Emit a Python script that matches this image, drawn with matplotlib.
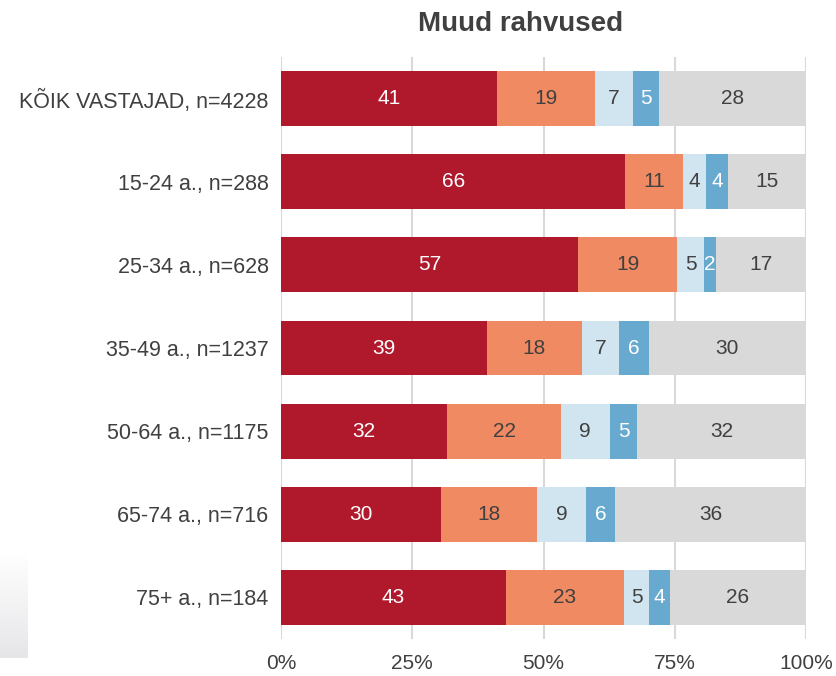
import matplotlib
matplotlib.use("Agg")
import matplotlib.pyplot as plt
import numpy as np

plt.rcParams['font.family'] = ['Liberation Sans', 'DejaVu Sans']

title = "Muud rahvused"
categories = ["KÕIK VASTAJAD, n=4228", "15-24 a., n=288", "25-34 a., n=628",
              "35-49 a., n=1237", "50-64 a., n=1175", "65-74 a., n=716", "75+ a., n=184"]
s1 = [41.1, 65.6, 56.6, 39.2, 31.7, 30.4, 42.8]
s2 = [18.8, 11.0, 18.9, 18.1, 21.6, 18.3, 22.6]
s3 = [7.1, 4.4, 5.0, 7.0, 9.3, 9.4, 4.7]
s4 = [5.0, 4.1, 2.3, 5.7, 5.3, 5.6, 4.0]
s5 = [28.0, 14.9, 17.2, 30.0, 32.1, 36.3, 25.9]
series = [s1, s2, s3, s4, s5]
colors = ["#B0182C", "#EF8A62", "#D1E5F0", "#67A9CF", "#D9D9D9"]
label_colors = ["white", "#404040", "#404040", "white", "#404040"]
xticks = [0, 25, 50, 75, 100]
xticklabels = ["0%", "25%", "50%", "75%", "100%"]

fig = plt.figure(figsize=(8.36, 6.76), dpi=100)
W, H = 836, 676
ax = fig.add_axes([281 / W, (H - 639) / H, 525 / W, 582 / H])

y = np.arange(len(categories))
left = np.zeros(len(categories))
for vals, c, lc in zip(series, colors, label_colors):
    vals = np.array(vals)
    bars = ax.barh(y, vals, left=left, height=0.66, color=c, zorder=2)
    ax.bar_label(bars, labels=[f"{v:.0f}" for v in vals], label_type='center',
                 color=lc, fontsize=15)
    left += vals

ax.set_xlim(0, 100)
ax.set_ylim(len(categories) - 0.5, -0.5)
ax.set_yticks(y)
ax.set_yticklabels(categories, fontsize=15.5, color="#404040")
ax.set_xticks(xticks)
ax.set_xticklabels(xticklabels, fontsize=15, color="#404040")
ax.tick_params(axis='x', length=0, pad=11)
ax.tick_params(axis='y', length=0, pad=9)
ax.grid(axis='x', color="#D9D9D9", linewidth=1.5, zorder=0)
ax.set_axisbelow(True)
for s in ax.spines.values():
    s.set_visible(False)

fig.text(521 / W, 1 - 24 / H, title, ha='center', va='center', fontsize=20,
         fontweight='bold', color="#404040")

# faint gradient box at lower left
gax = fig.add_axes([0, (H - 658) / H, 28 / W, 105 / H])
grad = np.linspace(0, 1, 100).reshape(-1, 1)
top = np.array([1.0, 1.0, 1.0])
bot = np.array([0xE6, 0xE6, 0xE9]) / 255
img = top + (bot - top) * grad[:, :, None]
gax.imshow(img, aspect='auto')
gax.axis('off')

fig.savefig("out.png", dpi=100)
